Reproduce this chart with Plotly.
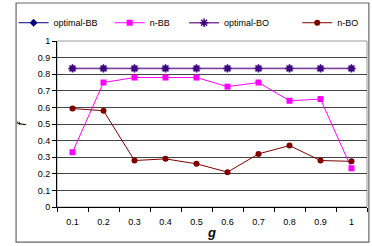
import plotly.graph_objects as go

categories = ["0.1", "0.2", "0.3", "0.4", "0.5", "0.6", "0.7", "0.8", "0.9", "1"]
optimal_bb = [0.835, 0.835, 0.835, 0.835, 0.835, 0.835, 0.835, 0.835, 0.835, 0.835]
n_bb = [0.33, 0.75, 0.78, 0.78, 0.78, 0.725, 0.75, 0.64, 0.65, 0.233]
optimal_bo = [0.835, 0.835, 0.835, 0.835, 0.835, 0.835, 0.835, 0.835, 0.835, 0.835]
n_bo = [0.593, 0.58, 0.28, 0.29, 0.26, 0.21, 0.32, 0.37, 0.28, 0.275]
y_ticks = [0, 0.1, 0.2, 0.3, 0.4, 0.5, 0.6, 0.7, 0.8, 0.9, 1]

FONT = "Liberation Sans, Arial, sans-serif"

fig = go.Figure()
fig.add_trace(go.Scatter(x=categories, y=optimal_bb, name="optimal-BB", mode="lines+markers",
                         line=dict(color="#000080", width=1),
                         marker=dict(symbol="diamond", size=6, color="#000080"), legend="legend"))
fig.add_trace(go.Scatter(x=categories, y=n_bb, name="n-BB", mode="lines+markers",
                         line=dict(color="#FF00FF", width=1),
                         marker=dict(symbol="square", size=6, color="#FF00FF"), legend="legend2"))
fig.add_trace(go.Scatter(x=categories, y=optimal_bo, name="optimal-BO", mode="lines+markers",
                         line=dict(color="#8040A0", width=1.5),
                         marker=dict(symbol="asterisk-open", size=7, color="#400080",
                                     line=dict(color="#400080", width=1.5)), legend="legend3"))
fig.add_trace(go.Scatter(x=categories, y=n_bo, name="n-BO", mode="lines+markers",
                         line=dict(color="#800000", width=1),
                         marker=dict(symbol="circle", size=6, color="#800000"), legend="legend4"))

leg_common = dict(orientation="h", yanchor="middle", y=1.11, xanchor="left",
                  font=dict(family=FONT, size=9, color="#000"), bgcolor="rgba(0,0,0,0)",
                  itemwidth=30, tracegroupgap=0)
fig.update_layout(
    width=372, height=246,
    margin=dict(l=57, r=5, t=41, b=39, autoexpand=False),
    paper_bgcolor="white", plot_bgcolor="white",
    font=dict(family=FONT, size=9, color="#000"),
    showlegend=True,
    legend=dict(x=-0.14, **leg_common),
    legend2=dict(x=0.17, **leg_common),
    legend3=dict(x=0.41, **leg_common),
    legend4=dict(x=0.775, **leg_common),
    xaxis=dict(type="category", range=[-0.5, 9.5], showgrid=False,
               showline=True, linecolor="#000", linewidth=1,
               ticks="outside", ticklen=4, tickcolor="#000", tickson="boundaries",
               tickfont=dict(family=FONT, size=9), automargin=True, ticklabelstandoff=6,
               title=dict(text="<b><i>g</i></b>", font=dict(family=FONT, size=13), standoff=2),
               mirror=False, zeroline=False),
    yaxis=dict(range=[0, 1], tickvals=y_ticks, ticktext=[f"{v:g}" for v in y_ticks],
               showgrid=True, gridcolor="#444", gridwidth=1,
               showline=True, linecolor="#000", linewidth=1,
               ticks="outside", ticklen=4, tickcolor="#000", automargin=True,
               tickfont=dict(family=FONT, size=9),
               title=dict(text="<i>f</i>", font=dict(family=FONT, size=12), standoff=8),
               zeroline=False),
    shapes=[
        dict(type="rect", xref="paper", yref="paper", x0=0, x1=1, y0=0, y1=1,
             line=dict(color="#999", width=1), fillcolor="rgba(0,0,0,0)", layer="below"),
        dict(type="rect", xref="paper", yref="paper", x0=-0.132, x1=1.006, y0=-0.211, y1=1.229,
             line=dict(color="#666", width=1.2), fillcolor="rgba(0,0,0,0)"),
    ],
)

fig.write_html("out.html", config={"displayModeBar": False},
               post_script="document.body.style.margin='0';document.body.style.padding='0';")
